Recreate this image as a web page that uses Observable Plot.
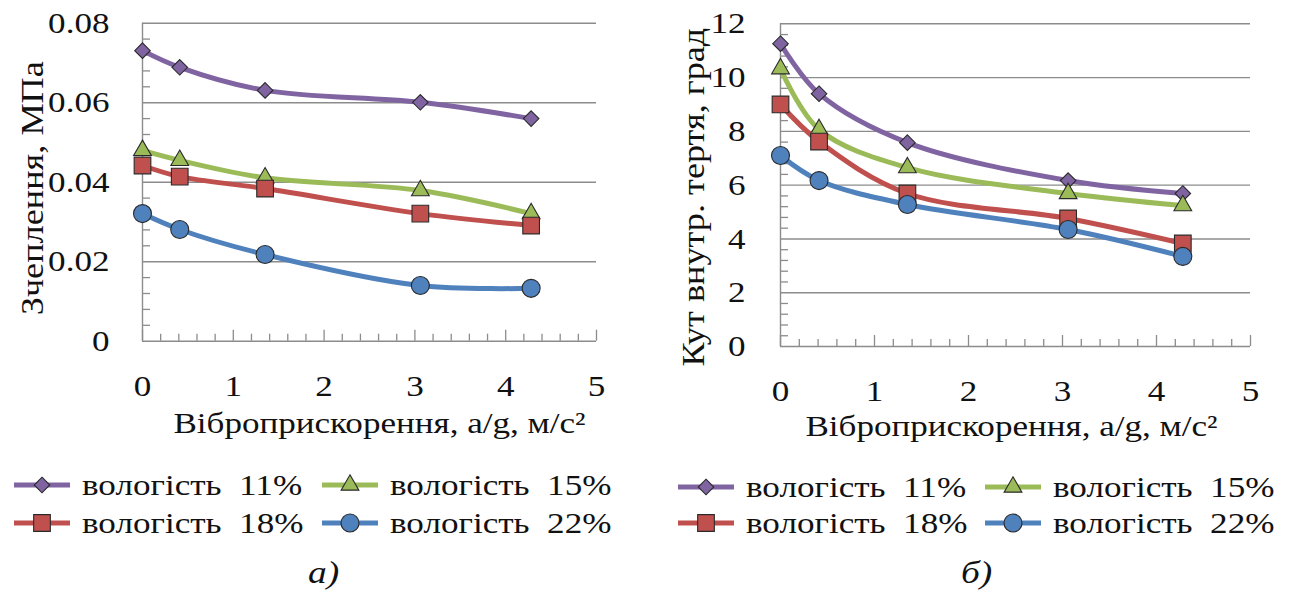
<!DOCTYPE html>
<html><head><meta charset="utf-8">
<script src="https://cdn.jsdelivr.net/npm/d3@7"></script>
<script src="https://cdn.jsdelivr.net/npm/@observablehq/plot@0.6"></script>
<style>
body{margin:0;background:#fff;width:1290px;height:590px;overflow:hidden;position:relative;font-family:'Liberation Serif',Tinos,serif;color:#111;}
.panel{position:absolute;top:0;width:645px;height:590px;}
.panel svg.plot{position:absolute;left:0;top:0;}
.item{position:absolute;height:36px;display:flex;align-items:center;white-space:pre;font-size:30px;line-height:36px;}
.item svg{margin-right:12px;flex:none;}
.item span{display:inline-block;transform:scaleX(1.17);transform-origin:left center;}
.caption{position:absolute;font-style:italic;font-size:32px;top:554px;transform:scaleX(1.17);transform-origin:left center;}
</style></head><body>
<div id="pa" class="panel" style="left:0"></div>
<div id="pb" class="panel" style="left:645px"></div>
<script>
// ---- data ----
const accel = [0, 0.41, 1.35, 3.06, 4.28];
const seriesNames = ["вологість  11%", "вологість  15%", "вологість  18%", "вологість  22%"];
const seriesColors = ["#8064A2", "#9BBB59", "#C0504D", "#4F81BD"];
const seriesSymbols = ["diamond2", "triangle", "square", "circle"];
const cohesion11 = [0.0731, 0.0689, 0.0631, 0.0601, 0.0560];
const cohesion15 = [0.0480, 0.0455, 0.0411, 0.0379, 0.0321];
const cohesion18 = [0.0442, 0.0414, 0.0384, 0.0321, 0.0291];
const cohesion22 = [0.0321, 0.0281, 0.0218, 0.0140, 0.0133];
const angle11 = [11.26, 9.4, 7.58, 6.17, 5.69];
const angle15 = [10.33, 8.07, 6.65, 5.69, 5.24];
const angle18 = [9.0, 7.62, 5.69, 4.76, 3.83];
const angle22 = [7.1, 6.17, 5.28, 4.35, 3.35];
const xTicks = [0, 1, 2, 3, 4, 5];
const xTickLabels = ["0", "1", "2", "3", "4", "5"];
const cohesionTicks = [0, 0.02, 0.04, 0.06, 0.08];
const cohesionTickLabels = ["0", "0.02", "0.04", "0.06", "0.08"];
const angleTicks = [0, 2, 4, 6, 8, 10, 12];
const angleTickLabels = ["0", "2", "4", "6", "8", "10", "12"];
const xTitle = "Віброприскорення, a/g, м/с²";
const yTitleA = "Зчеплення, МПа";
const yTitleB = "Кут внутр. тертя, град";
const captions = ["а)", "б)"];

const FONT = "'Liberation Serif', Tinos, serif";
const STRETCH = 1.17;
const gridColor = "#8c8c8c";
const symbolR = [7, 6.6, 9.4, 9];

// widen glyphs along the text direction (the reference typeface is wider than Liberation Serif)
function stretchTexts(svg, sx) {
  svg.querySelectorAll("text").forEach(t => {
    const tr = t.getAttribute("transform") || "";
    const x = parseFloat(t.getAttribute("x")) || 0;
    t.setAttribute("transform", `${tr} translate(${x},0) scale(${sx},1) translate(${-x},0)`.trim());
  });
}

function panel(el, cfg) {
  const series = cfg.series;
  const xMinor = d3.range(1, 25).map(i => i * 0.2).filter(v => Math.abs(v - Math.round(v)) > 1e-6);
  const marks = [
    Plot.gridY(cfg.yTicks, {stroke: gridColor, strokeOpacity: 1, strokeWidth: 1.4}),
    Plot.ruleX([0], {stroke: gridColor, strokeWidth: 1.4}),
    Plot.axisY(cfg.yMinor, {tickSize: -8, stroke: gridColor, strokeWidth: 1.3, tickFormat: () => "", label: null}),
    Plot.axisX(xMinor, {tickSize: -7, stroke: gridColor, strokeWidth: 1.3, tickFormat: () => "", label: null}),
    Plot.axisX(xTicks, {tickSize: -11, stroke: gridColor, strokeWidth: 1.3, tickFormat: () => "", label: null}),
    Plot.axisY(cfg.yTicks, {tickSize: 0, tickPadding: cfg.yPad, tickFormat: (d, i) => cfg.yLabels[i], fontSize: 30, label: null, fill: "#111"}),
    Plot.axisX(xTicks, {tickSize: 0, tickPadding: 33, tickFormat: (d, i) => xTickLabels[i], fontSize: 30, label: null, fill: "#111"}),
    Plot.text([cfg.yTitle], {text: d => d, frameAnchor: "left", textAnchor: "middle", lineAnchor: "middle", rotate: -90, dx: cfg.yTitleDx, dy: cfg.yTitleDy, fontSize: 31, fill: "#111"}),
    Plot.text([xTitle], {text: d => d, frameAnchor: "bottom", textAnchor: "middle", lineAnchor: "middle", dx: cfg.xTitleDx, dy: cfg.xTitleDy, fontSize: 30, fill: "#111"})
  ];
  series.forEach((vals, s) => {
    const data = vals.map((v, i) => ({x: accel[i], y: v}));
    marks.push(Plot.line(data, {x: "x", y: "y", stroke: seriesColors[s], strokeWidth: 5, curve: "catmull-rom"}));
    marks.push(Plot.dot(data, {x: "x", y: "y", symbol: seriesSymbols[s], r: symbolR[s], fill: seriesColors[s], stroke: "#2a2a2a", strokeWidth: 1.1}));
  });
  const svg = Plot.plot({
    width: 645, height: 440,
    marginLeft: cfg.ml, marginRight: cfg.mr, marginTop: cfg.mt, marginBottom: cfg.mb,
    x: {domain: [0, 5], label: null},
    y: {domain: cfg.yDomain, label: null},
    style: {fontFamily: FONT, background: "transparent", overflow: "visible", color: "#111"},
    marks
  });
  stretchTexts(svg, STRETCH);
  svg.classList.add("plot");
  el.appendChild(svg);

  seriesNames.forEach((name, s) => {
    const item = document.createElement("div");
    item.className = "item";
    item.style.left = cfg.legCols[s % 2] + "px";
    item.style.top = (cfg.legRows[Math.floor(s / 2)] - 18) + "px";
    const sw = d3.create("svg").attr("width", 56).attr("height", 24);
    sw.append("line").attr("x1", 0).attr("x2", 56).attr("y1", 12).attr("y2", 12)
      .attr("stroke", seriesColors[s]).attr("stroke-width", 5);
    const sym = {diamond2: d3.symbolDiamond2, triangle: d3.symbolTriangle, square: d3.symbolSquare, circle: d3.symbolCircle}[seriesSymbols[s]];
    sw.append("path").attr("transform", "translate(28,12)")
      .attr("d", d3.symbol(sym, Math.PI * symbolR[s] * symbolR[s])())
      .attr("fill", seriesColors[s]).attr("stroke", "#2a2a2a").attr("stroke-width", 1.1);
    item.appendChild(sw.node());
    const t = document.createElement("span");
    t.textContent = name;
    item.appendChild(t);
    el.appendChild(item);
  });
  const cap = document.createElement("div");
  cap.className = "caption";
  cap.textContent = cfg.caption;
  cap.style.left = cfg.capX + "px";
  el.appendChild(cap);
}

panel(document.getElementById("pa"), {
  series: [cohesion11, cohesion15, cohesion18, cohesion22],
  yDomain: [0, 0.08], yTicks: cohesionTicks, yLabels: cohesionTickLabels,
  yMinor: d3.range(1, 20).map(i => i * 0.004).filter(v => Math.abs(v / 0.02 - Math.round(v / 0.02)) > 1e-6),
  yPad: 33, yTitle: yTitleA, yTitleDx: -109, yTitleDy: 6, xTitleDx: 10, xTitleDy: 82,
  ml: 142, mr: 49, mt: 22.7, mb: 99.3,
  legCols: [14, 322], legRows: [485, 523], caption: captions[0], capX: 308
});
panel(document.getElementById("pb"), {
  series: [angle11, angle15, angle18, angle22],
  yDomain: [0, 12], yTicks: angleTicks, yLabels: angleTickLabels,
  yMinor: d3.range(1, 30).map(i => i * 0.4).filter(v => Math.abs(v / 2 - Math.round(v / 2)) > 1e-6),
  yPad: 35, yTitle: yTitleB, yTitleDx: -86, yTitleDy: 12, xTitleDx: -4, xTitleDy: 80,
  ml: 135, mr: 40, mt: 23.3, mb: 94,
  legCols: [33, 340], legRows: [487, 523], caption: captions[1], capX: 316
});
</script>
</body></html>
